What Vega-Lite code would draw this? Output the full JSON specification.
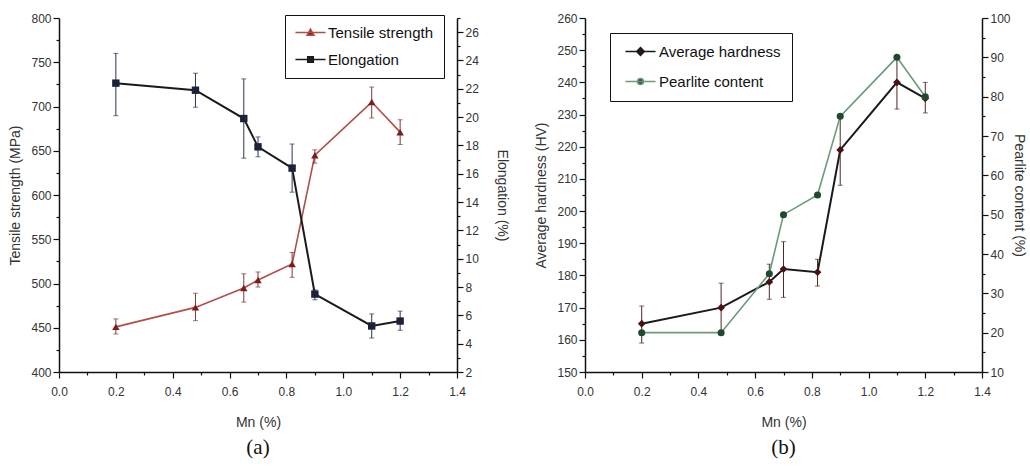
{
  "$schema": "https://vega.github.io/schema/vega-lite/v6.json",
  "background": "white",
  "padding": {"left": 8, "top": 12, "right": 4, "bottom": 4},
  "datasets": {
    "a": [
      {"mn": 0.2, "series": "Tensile strength", "value": 451, "lo": 443, "hi": 460},
      {"mn": 0.48, "series": "Tensile strength", "value": 473, "lo": 458, "hi": 489},
      {"mn": 0.65, "series": "Tensile strength", "value": 495, "lo": 479, "hi": 511},
      {"mn": 0.7, "series": "Tensile strength", "value": 504, "lo": 496, "hi": 513},
      {"mn": 0.82, "series": "Tensile strength", "value": 522, "lo": 507, "hi": 535},
      {"mn": 0.9, "series": "Tensile strength", "value": 645, "lo": 636, "hi": 651},
      {"mn": 1.1, "series": "Tensile strength", "value": 705, "lo": 687, "hi": 722},
      {"mn": 1.2, "series": "Tensile strength", "value": 671, "lo": 657, "hi": 685},
      {"mn": 0.2, "series": "Elongation", "value": 22.4, "lo": 20.1, "hi": 24.5},
      {"mn": 0.48, "series": "Elongation", "value": 21.9, "lo": 20.7, "hi": 23.1},
      {"mn": 0.65, "series": "Elongation", "value": 19.9, "lo": 17.1, "hi": 22.7},
      {"mn": 0.7, "series": "Elongation", "value": 17.9, "lo": 17.2, "hi": 18.6},
      {"mn": 0.82, "series": "Elongation", "value": 16.4, "lo": 14.7, "hi": 18.1},
      {"mn": 0.9, "series": "Elongation", "value": 7.5, "lo": 7.1, "hi": 7.8},
      {"mn": 1.1, "series": "Elongation", "value": 5.25, "lo": 4.4, "hi": 6.1},
      {"mn": 1.2, "series": "Elongation", "value": 5.6, "lo": 4.95, "hi": 6.3}
    ],
    "b": [
      {"mn": 0.2, "series": "Average hardness", "value": 165, "lo": 159, "hi": 170.5},
      {"mn": 0.48, "series": "Average hardness", "value": 170, "lo": 162.5, "hi": 177.6},
      {"mn": 0.65, "series": "Average hardness", "value": 178, "lo": 172.6, "hi": 183.5},
      {"mn": 0.7, "series": "Average hardness", "value": 182, "lo": 173.2, "hi": 190.5},
      {"mn": 0.82, "series": "Average hardness", "value": 181, "lo": 176.7, "hi": 185},
      {"mn": 0.9, "series": "Average hardness", "value": 219, "lo": 208, "hi": 230},
      {"mn": 1.1, "series": "Average hardness", "value": 240, "lo": 231.7, "hi": 248},
      {"mn": 1.2, "series": "Average hardness", "value": 235, "lo": 230.5, "hi": 240},
      {"mn": 0.2, "series": "Pearlite content", "value": 20},
      {"mn": 0.48, "series": "Pearlite content", "value": 20},
      {"mn": 0.65, "series": "Pearlite content", "value": 35},
      {"mn": 0.7, "series": "Pearlite content", "value": 50},
      {"mn": 0.82, "series": "Pearlite content", "value": 55},
      {"mn": 0.9, "series": "Pearlite content", "value": 75},
      {"mn": 1.1, "series": "Pearlite content", "value": 90},
      {"mn": 1.2, "series": "Pearlite content", "value": 80}
    ]
  },
  "hconcat": [
    {
      "width": 398,
      "height": 354,
      "data": {"name": "a"},
      "title": {"text": "(a)", "orient": "bottom", "font": "Liberation Serif", "fontSize": 21, "fontWeight": "normal", "color": "#111", "offset": 8},
      "encoding": {
        "x": {"field": "mn", "type": "quantitative", "title": "Mn (%)", "scale": {"domain": [0, 1.4], "nice": false},
          "axis": {"values": [0,0.1,0.2,0.3,0.4,0.5,0.6,0.7,0.8,0.9,1.0,1.1,1.2,1.3,1.4],
            "labelOverlap": false, "labelPadding": 8, "titlePadding": 18,
            "labelExpr": "round(datum.value*10) % 2 === 0 ? format(datum.value, '.1f') : ''",
            "tickSize": {"condition": {"test": "round(datum.value*10) % 2 === 0", "value": 6}, "value": 3}}}
      },
      "layer": [
        {
          "transform": [{"filter": "datum.series === 'Tensile strength'"}],
          "layer": [
            {
              "mark": {"type": "line", "color": "#b04e4a", "strokeWidth": 1.6},
              "encoding": {
                "y": {"field": "value", "type": "quantitative", "title": "Tensile strength (MPa)", "scale": {"domain": [400, 800], "nice": false, "zero": false},
                  "axis": {"orient": "left", "labelOverlap": false,
                    "values": [400,425,450,475,500,525,550,575,600,625,650,675,700,725,750,775,800],
                    "labelExpr": "datum.value % 50 === 0 ? datum.label : ''",
                    "tickSize": {"condition": {"test": "datum.value % 50 === 0", "value": 6}, "value": 3}}}
              }
            },
            {
              "mark": {"type": "errorbar", "ticks": {"size": 5}, "color": "#7a3a3a", "thickness": 1},
              "encoding": {
                "y": {"field": "lo", "type": "quantitative", "title": "Tensile strength (MPa)", "scale": {"domain": [400, 800], "nice": false, "zero": false},
                  "axis": {"orient": "left", "labelOverlap": false,
                    "values": [400,425,450,475,500,525,550,575,600,625,650,675,700,725,750,775,800],
                    "labelExpr": "datum.value % 50 === 0 ? datum.label : ''",
                    "tickSize": {"condition": {"test": "datum.value % 50 === 0", "value": 6}, "value": 3}}},
                "y2": {"field": "hi"}
              }
            },
            {
              "mark": {"type": "point", "filled": true, "shape": "triangle-up", "color": "#7e1c1c", "size": 55, "opacity": 1},
              "encoding": {
                "y": {"field": "value", "type": "quantitative", "title": "Tensile strength (MPa)", "scale": {"domain": [400, 800], "nice": false, "zero": false},
                  "axis": {"orient": "left", "labelOverlap": false,
                    "values": [400,425,450,475,500,525,550,575,600,625,650,675,700,725,750,775,800],
                    "labelExpr": "datum.value % 50 === 0 ? datum.label : ''",
                    "tickSize": {"condition": {"test": "datum.value % 50 === 0", "value": 6}, "value": 3}}}
              }
            },
            {
              "data": {"values": [{"mn": 0.2, "value": 451, "s": "Tensile strength"}, {"mn": 0.2, "value": 451, "s": "Elongation"}]},
              "mark": {"type": "point", "filled": true, "opacity": 0, "strokeWidth": 1.5, "size": 10},
              "encoding": {
                "y": {"field": "value", "type": "quantitative", "title": "Tensile strength (MPa)", "scale": {"domain": [400, 800], "nice": false, "zero": false},
                  "axis": {"orient": "left", "labelOverlap": false,
                    "values": [400,425,450,475,500,525,550,575,600,625,650,675,700,725,750,775,800],
                    "labelExpr": "datum.value % 50 === 0 ? datum.label : ''",
                    "tickSize": {"condition": {"test": "datum.value % 50 === 0", "value": 6}, "value": 3}}},
                "fill": {"field": "s", "type": "nominal", "scale": {"domain": ["Tensile strength", "Elongation"], "range": ["#7e1c1c", "#1c2238"]},
                  "legend": {"title": null, "orient": "none", "legendX": 226, "legendY": -3, "strokeColor": "#111", "padding": 10, "labelFontSize": 15, "labelColor": "#111", "labelFont": "Liberation Sans", "rowPadding": 11, "symbolSize": 49, "labelOffset": 10, "symbolOffset": 8, "symbolOpacity": 1, "symbolStrokeWidth": 1.5}},
                "stroke": {"field": "s", "type": "nominal", "scale": {"domain": ["Tensile strength", "Elongation"], "range": ["#b04e4a", "#1a1a1a"]},
                  "legend": {"title": null, "orient": "none", "legendX": 226, "legendY": -3, "strokeColor": "#111", "padding": 10, "labelFontSize": 15, "labelColor": "#111", "labelFont": "Liberation Sans", "rowPadding": 11, "symbolSize": 49, "labelOffset": 10, "symbolOffset": 8, "symbolOpacity": 1, "symbolStrokeWidth": 1.5}},
                "shape": {"field": "s", "type": "nominal", "scale": {"domain": ["Tensile strength", "Elongation"], "range": ["M-4.3,0H4.3M0,-1L1,0.8H-1Z", "M-4.3,0H4.3M-0.8,-0.8H0.8V0.8H-0.8Z"]},
                  "legend": {"title": null, "orient": "none", "legendX": 226, "legendY": -3, "strokeColor": "#111", "padding": 10, "labelFontSize": 15, "labelColor": "#111", "labelFont": "Liberation Sans", "rowPadding": 11, "symbolSize": 49, "labelOffset": 10, "symbolOffset": 8, "symbolOpacity": 1, "symbolStrokeWidth": 1.5}}
              }
            }
          ]
        },
        {
          "transform": [{"filter": "datum.series === 'Elongation'"}],
          "layer": [
            {
              "mark": {"type": "line", "color": "#1a1a1a", "strokeWidth": 2},
              "encoding": {
                "y": {"field": "value", "type": "quantitative", "title": "Elongation (%)", "scale": {"domain": [2, 27], "nice": false, "zero": false},
                  "axis": {"orient": "right", "labelOverlap": false, "titlePadding": 16,
                    "values": [2,3,4,5,6,7,8,9,10,11,12,13,14,15,16,17,18,19,20,21,22,23,24,25,26,27],
                    "labelExpr": "datum.value % 2 === 0 ? datum.label : ''",
                    "tickSize": {"condition": {"test": "datum.value % 2 === 0", "value": 6}, "value": 3}}}
              }
            },
            {
              "mark": {"type": "errorbar", "ticks": {"size": 5}, "color": "#2a3550", "thickness": 1},
              "encoding": {
                "y": {"field": "lo", "type": "quantitative", "title": "Elongation (%)", "scale": {"domain": [2, 27], "nice": false, "zero": false},
                  "axis": {"orient": "right", "labelOverlap": false, "titlePadding": 16,
                    "values": [2,3,4,5,6,7,8,9,10,11,12,13,14,15,16,17,18,19,20,21,22,23,24,25,26,27],
                    "labelExpr": "datum.value % 2 === 0 ? datum.label : ''",
                    "tickSize": {"condition": {"test": "datum.value % 2 === 0", "value": 6}, "value": 3}}},
                "y2": {"field": "hi"}
              }
            },
            {
              "mark": {"type": "point", "filled": true, "shape": "square", "color": "#1c2238", "size": 55, "opacity": 1},
              "encoding": {
                "y": {"field": "value", "type": "quantitative", "title": "Elongation (%)", "scale": {"domain": [2, 27], "nice": false, "zero": false},
                  "axis": {"orient": "right", "labelOverlap": false, "titlePadding": 16,
                    "values": [2,3,4,5,6,7,8,9,10,11,12,13,14,15,16,17,18,19,20,21,22,23,24,25,26,27],
                    "labelExpr": "datum.value % 2 === 0 ? datum.label : ''",
                    "tickSize": {"condition": {"test": "datum.value % 2 === 0", "value": 6}, "value": 3}}}
              }
            }
          ]
        }
      ],
      "resolve": {"scale": {"y": "independent"}}
    },
    {
      "width": 397,
      "height": 354,
      "data": {"name": "b"},
      "title": {"text": "(b)", "orient": "bottom", "font": "Liberation Serif", "fontSize": 21, "fontWeight": "normal", "color": "#111", "offset": 8},
      "encoding": {
        "x": {"field": "mn", "type": "quantitative", "title": "Mn (%)", "scale": {"domain": [0, 1.4], "nice": false},
          "axis": {"values": [0,0.1,0.2,0.3,0.4,0.5,0.6,0.7,0.8,0.9,1.0,1.1,1.2,1.3,1.4],
            "labelOverlap": false, "labelPadding": 8, "titlePadding": 18,
            "labelExpr": "round(datum.value*10) % 2 === 0 ? format(datum.value, '.1f') : ''",
            "tickSize": {"condition": {"test": "round(datum.value*10) % 2 === 0", "value": 6}, "value": 3}}}
      },
      "layer": [
        {
          "transform": [{"filter": "datum.series === 'Average hardness'"}],
          "layer": [
            {
              "mark": {"type": "line", "color": "#1a1a1a", "strokeWidth": 2},
              "encoding": {
                "y": {"field": "value", "type": "quantitative", "title": "Average hardness (HV)", "scale": {"domain": [150, 260], "nice": false, "zero": false},
                  "axis": {"orient": "left", "labelOverlap": false,
                    "values": [150,155,160,165,170,175,180,185,190,195,200,205,210,215,220,225,230,235,240,245,250,255,260],
                    "labelExpr": "datum.value % 10 === 0 ? datum.label : ''",
                    "tickSize": {"condition": {"test": "datum.value % 10 === 0", "value": 6}, "value": 3}}}
              }
            },
            {
              "mark": {"type": "errorbar", "ticks": {"size": 5}, "color": "#4a2a2a", "thickness": 1},
              "encoding": {
                "y": {"field": "lo", "type": "quantitative", "title": "Average hardness (HV)", "scale": {"domain": [150, 260], "nice": false, "zero": false},
                  "axis": {"orient": "left", "labelOverlap": false,
                    "values": [150,155,160,165,170,175,180,185,190,195,200,205,210,215,220,225,230,235,240,245,250,255,260],
                    "labelExpr": "datum.value % 10 === 0 ? datum.label : ''",
                    "tickSize": {"condition": {"test": "datum.value % 10 === 0", "value": 6}, "value": 3}}},
                "y2": {"field": "hi"}
              }
            },
            {
              "mark": {"type": "point", "filled": true, "shape": "diamond", "color": "#4a1212", "size": 60, "opacity": 1},
              "encoding": {
                "y": {"field": "value", "type": "quantitative", "title": "Average hardness (HV)", "scale": {"domain": [150, 260], "nice": false, "zero": false},
                  "axis": {"orient": "left", "labelOverlap": false,
                    "values": [150,155,160,165,170,175,180,185,190,195,200,205,210,215,220,225,230,235,240,245,250,255,260],
                    "labelExpr": "datum.value % 10 === 0 ? datum.label : ''",
                    "tickSize": {"condition": {"test": "datum.value % 10 === 0", "value": 6}, "value": 3}}}
              }
            },
            {
              "data": {"values": [{"mn": 0.2, "value": 165, "s": "Average hardness"}, {"mn": 0.2, "value": 165, "s": "Pearlite content"}]},
              "mark": {"type": "point", "filled": true, "opacity": 0, "strokeWidth": 1.5, "size": 10},
              "encoding": {
                "y": {"field": "value", "type": "quantitative", "title": "Average hardness (HV)", "scale": {"domain": [150, 260], "nice": false, "zero": false},
                  "axis": {"orient": "left", "labelOverlap": false,
                    "values": [150,155,160,165,170,175,180,185,190,195,200,205,210,215,220,225,230,235,240,245,250,255,260],
                    "labelExpr": "datum.value % 10 === 0 ? datum.label : ''",
                    "tickSize": {"condition": {"test": "datum.value % 10 === 0", "value": 6}, "value": 3}}},
                "fill": {"field": "s", "type": "nominal", "scale": {"domain": ["Average hardness", "Pearlite content"], "range": ["#4a1212", "#1f4a2f"]},
                  "legend": {"title": null, "orient": "none", "legendX": 25, "legendY": 15, "strokeColor": "#111", "padding": 11, "labelFontSize": 15, "labelColor": "#111", "labelFont": "Liberation Sans", "rowPadding": 14, "symbolSize": 49, "labelOffset": 11, "symbolOffset": 12, "symbolOpacity": 1, "symbolStrokeWidth": 1.5}},
                "stroke": {"field": "s", "type": "nominal", "scale": {"domain": ["Average hardness", "Pearlite content"], "range": ["#1a1a1a", "#6a9a7a"]},
                  "legend": {"title": null, "orient": "none", "legendX": 25, "legendY": 15, "strokeColor": "#111", "padding": 11, "labelFontSize": 15, "labelColor": "#111", "labelFont": "Liberation Sans", "rowPadding": 14, "symbolSize": 49, "labelOffset": 11, "symbolOffset": 12, "symbolOpacity": 1, "symbolStrokeWidth": 1.5}},
                "shape": {"field": "s", "type": "nominal", "scale": {"domain": ["Average hardness", "Pearlite content"], "range": ["M-4.3,0H4.3M0,-1.1L1.1,0L0,1.1L-1.1,0Z", "M-4.3,0H4.3M0.85,0A0.85,0.85,0,1,1,-0.85,0A0.85,0.85,0,1,1,0.85,0Z"]},
                  "legend": {"title": null, "orient": "none", "legendX": 25, "legendY": 15, "strokeColor": "#111", "padding": 11, "labelFontSize": 15, "labelColor": "#111", "labelFont": "Liberation Sans", "rowPadding": 14, "symbolSize": 49, "labelOffset": 11, "symbolOffset": 12, "symbolOpacity": 1, "symbolStrokeWidth": 1.5}}
              }
            }
          ]
        },
        {
          "transform": [{"filter": "datum.series === 'Pearlite content'"}],
          "layer": [
            {
              "mark": {"type": "line", "color": "#6a9a7a", "strokeWidth": 1.6},
              "encoding": {
                "y": {"field": "value", "type": "quantitative", "title": "Pearlite content (%)", "scale": {"domain": [10, 100], "nice": false, "zero": false},
                  "axis": {"orient": "right", "labelOverlap": false, "titlePadding": 1,
                    "values": [10,15,20,25,30,35,40,45,50,55,60,65,70,75,80,85,90,95,100],
                    "labelExpr": "datum.value % 10 === 0 ? datum.label : ''",
                    "tickSize": {"condition": {"test": "datum.value % 10 === 0", "value": 6}, "value": 3}}}
              }
            },
            {
              "mark": {"type": "point", "filled": true, "shape": "circle", "color": "#1f4a2f", "size": 50, "opacity": 1},
              "encoding": {
                "y": {"field": "value", "type": "quantitative", "title": "Pearlite content (%)", "scale": {"domain": [10, 100], "nice": false, "zero": false},
                  "axis": {"orient": "right", "labelOverlap": false, "titlePadding": 1,
                    "values": [10,15,20,25,30,35,40,45,50,55,60,65,70,75,80,85,90,95,100],
                    "labelExpr": "datum.value % 10 === 0 ? datum.label : ''",
                    "tickSize": {"condition": {"test": "datum.value % 10 === 0", "value": 6}, "value": 3}}}
              }
            }
          ]
        }
      ],
      "resolve": {"scale": {"y": "independent"}}
    }
  ],
  "spacing": 25,
  "resolve": {"scale": {"fill": "independent", "stroke": "independent", "shape": "independent", "color": "independent"}, "legend": {"fill": "independent", "stroke": "independent", "shape": "independent", "color": "independent"}},
  "config": {
    "view": {"stroke": null},
    "font": "Liberation Sans",
    "axis": {
      "grid": false,
      "domainColor": "#111",
      "domainWidth": 1.5,
      "tickColor": "#111",
      "tickWidth": 1.2,
      "labelFont": "Liberation Sans",
      "labelFontSize": 12,
      "labelColor": "#333",
      "labelOverlap": false,
      "labelFlush": false,
      "labelPadding": 2,
      "titleFont": "Liberation Sans",
      "titleFontSize": 14,
      "titleFontWeight": "normal",
      "titleColor": "#333",
      "titlePadding": 8
    }
  }
}
